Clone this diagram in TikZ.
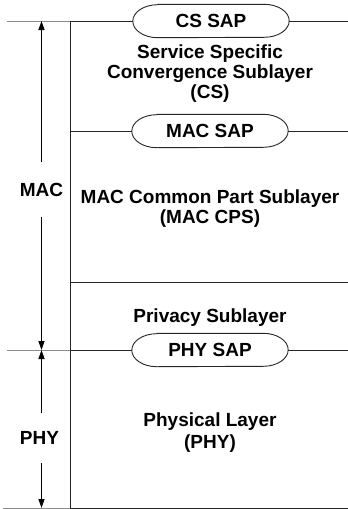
\documentclass[tikz,border=0pt]{standalone}
\usepackage{fontspec}
\setmainfont{Liberation Sans}
\usetikzlibrary{arrows.meta}
\begin{document}
\begin{tikzpicture}[x=1pt,y=-1pt,
  every node/.style={font=\fontsize{19}{20}\selectfont\bfseries, inner sep=0pt},
  sap/.style={minimum width=156pt, minimum height=33pt},
  layer/.style={align=center},
  rule/.style={line width=0.9pt, draw=black!85},
  ext/.style={line width=0.8pt, draw=black!45},
  dim/.style={line width=1.3pt, -{Triangle[width=6pt,length=9pt]}}]
\useasboundingbox (0,0) rectangle (348,509);

% reference points of the layer boundaries
\coordinate (t0) at (7,21);   \coordinate (tv) at (70,21);  \coordinate (tr) at (348,21);
\coordinate (mv) at (70,131); \coordinate (mr) at (348,131);
\coordinate (pv) at (70,282); \coordinate (pr) at (348,282);
\coordinate (h0) at (7,350);  \coordinate (hv) at (70,350); \coordinate (hr) at (348,350);
\coordinate (b0) at (3,508);  \coordinate (bv) at (70,508); \coordinate (br) at (348,508);
\coordinate (a1) at (41.5,21); \coordinate (a2) at (41.5,350); \coordinate (a3) at (41.5,508);

% service access points
\node[sap] (cs)  at (211,21)  {CS SAP};
\node[sap] (mac) at (210,131) {MAC SAP};
\node[sap] (phy) at (210,350) {PHY SAP};
\foreach \n in {cs,mac,phy}
  \draw[rule] ([xshift=25pt]\n.north west) -- ([xshift=-25pt]\n.north east)
    arc[start angle=90,end angle=-90,x radius=25pt,y radius=16.5pt]
    -- ([xshift=25pt]\n.south west)
    arc[start angle=270,end angle=90,x radius=25pt,y radius=16.5pt] -- cycle;

% boundaries
\draw[ext] (t0) -- (tv);
\draw[rule] (tv) -- (cs.west);
\draw[rule] (cs.east) -- (tr);
\draw[rule] (mv) -- (mac.west);
\draw[rule] (mac.east) -- (mr);
\draw[rule] (pv) -- (pr);
\draw[ext] (h0) -- (hv);
\draw[rule] (hv) -- (phy.west);
\draw[rule] (phy.east) -- (hr);
\draw[ext] (b0) -- (bv);
\draw[rule] (bv) -- (br);
\draw[rule] (tv) -- (bv);

% layer names
\node[layer] (cstxt)  at (210,74)  {Service Specific\\Convergence Sublayer\\(CS)};
\node[layer] (cpstxt) at (210,209) {MAC Common Part Sublayer\\(MAC CPS)};
\node (privtxt) at (210,318) {Privacy Sublayer};
\node[layer, font=\fontsize{19}{22}\selectfont\bfseries] (phytxt) at (210,433) {Physical Layer\\(PHY)};

% extent of MAC and PHY
\node[minimum height=55pt] (maclbl) at (41.5,189.5) {MAC};
\node[minimum height=49pt] (phylbl) at (39.5,438) {PHY};
\draw[dim] (maclbl.north) -- (a1);
\draw[dim] (maclbl.south) -- (a2);
\draw[dim] (phylbl.north -| a2) -- (a2);
\draw[dim] (phylbl.south -| a3) -- (a3);
\end{tikzpicture}
\end{document}
